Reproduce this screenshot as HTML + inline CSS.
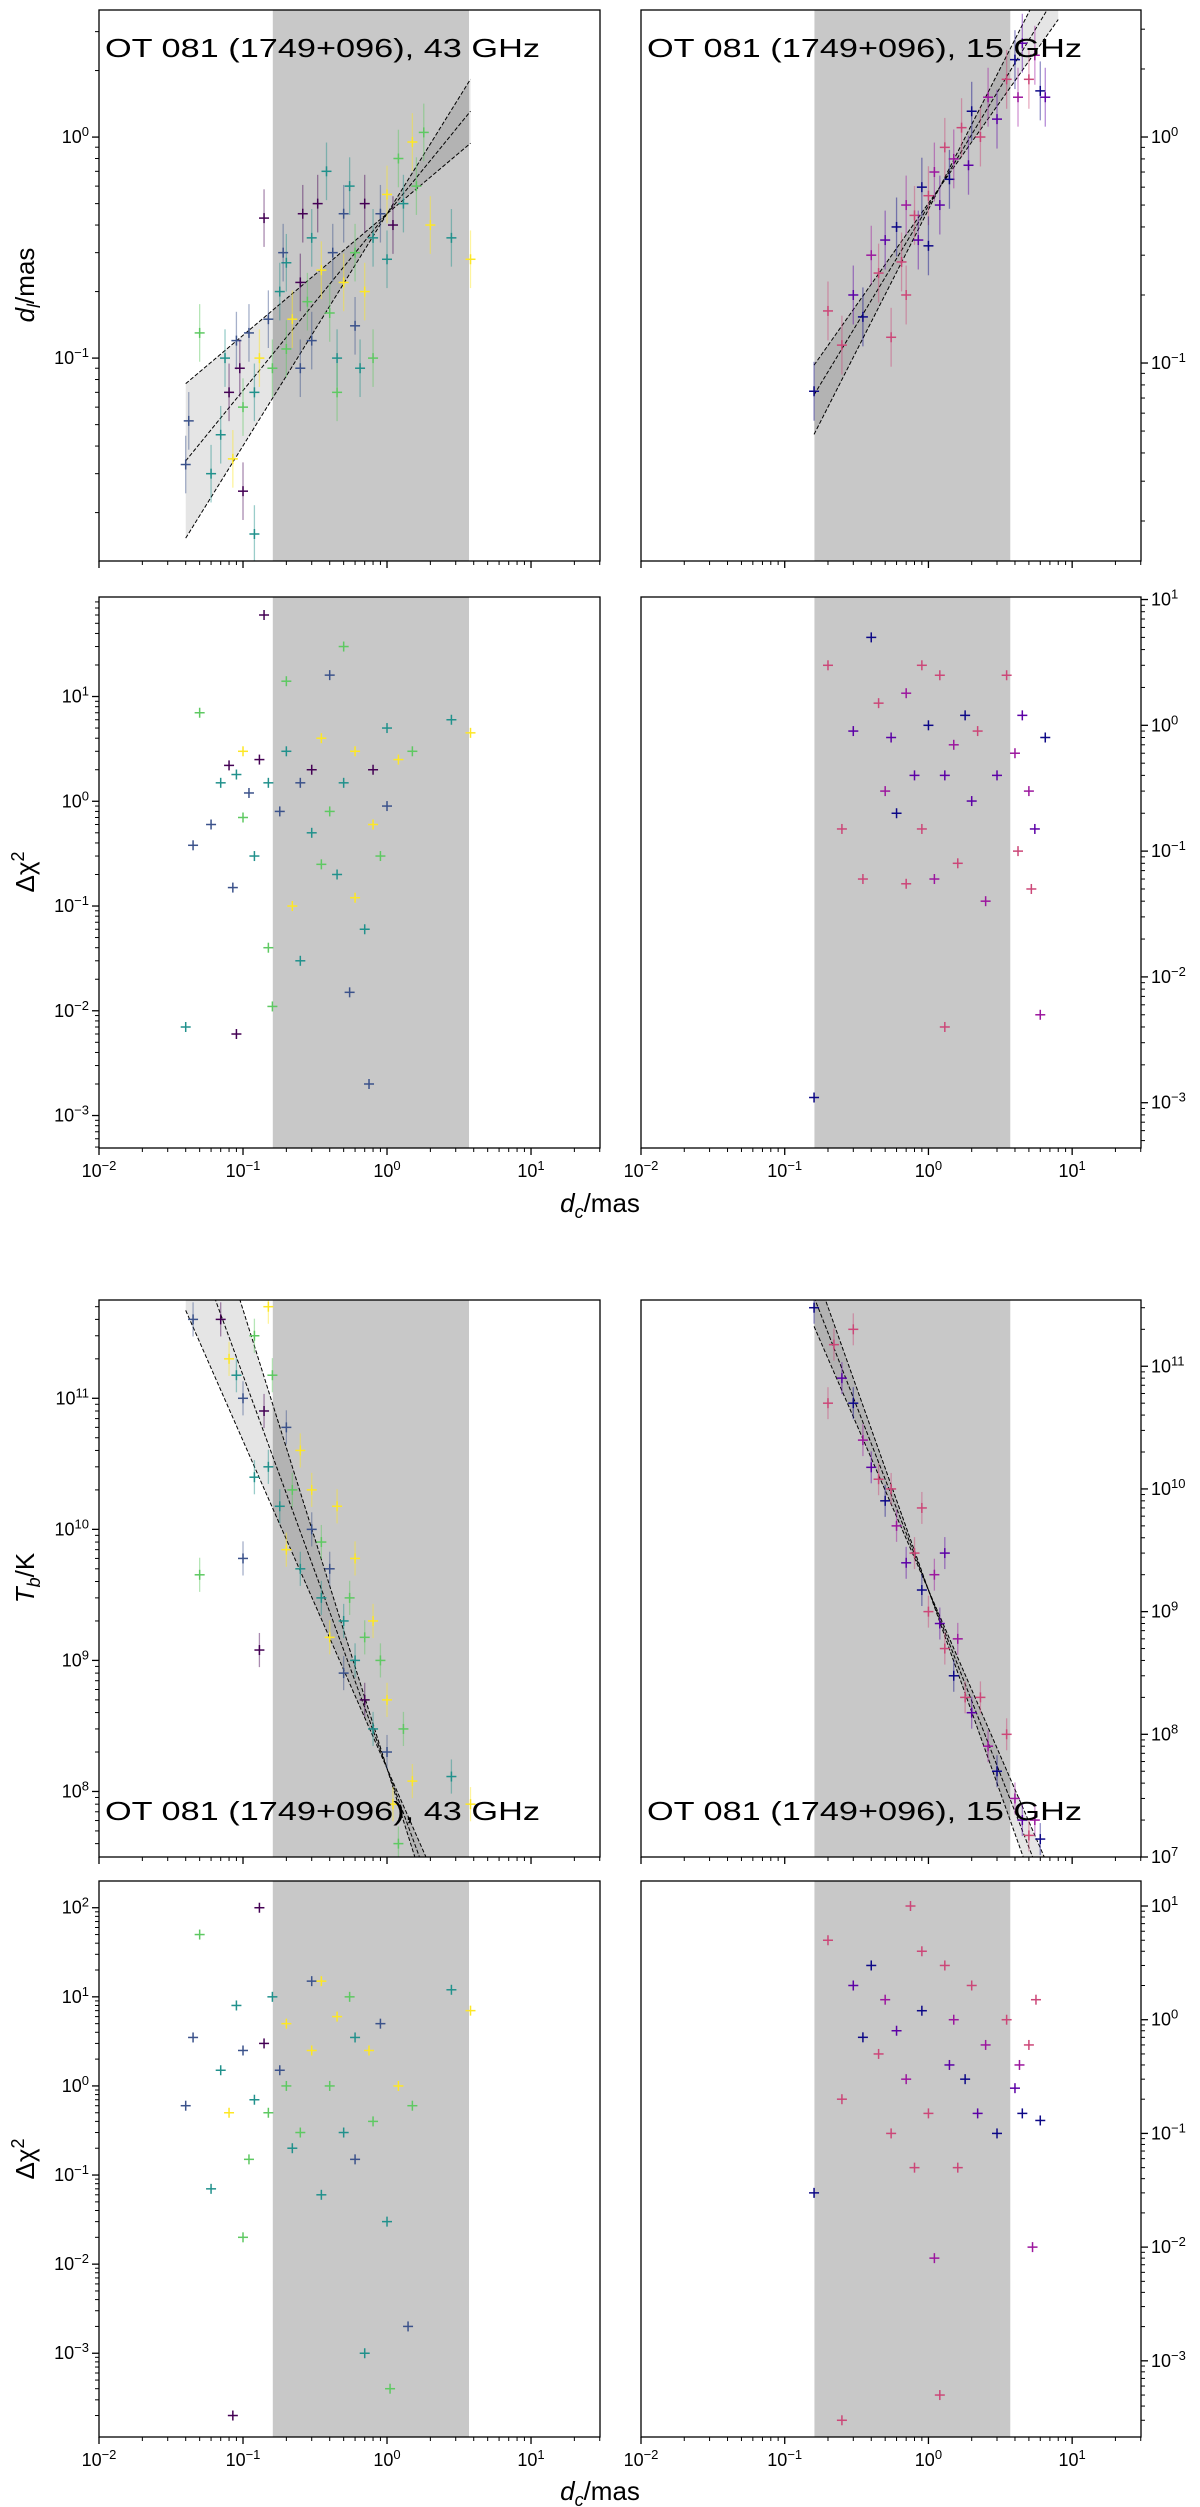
<!DOCTYPE html>
<html><head><meta charset="utf-8">
<style>
html,body{margin:0;padding:0;background:#fff;}
svg{display:block;font-family:"Liberation Sans","DejaVu Sans",sans-serif;}
</style></head>
<body>
<svg id="fig" width="1200" height="2507" viewBox="0 0 1200 2507" xmlns="http://www.w3.org/2000/svg"></svg>
<script>
// ---------- data (estimated from reference) ----------
const viridis = ['#440154','#3b528b','#21918c','#5ec962','#fde725'];
const plasma = ['#0d0887','#5c01a6','#9c179e','#cc4778'];

const aX=[0.04,0.042,0.05,0.06,0.07,0.075,0.08,0.085,0.09,0.095,0.1,0.1,0.11,0.12,0.12,0.13,0.14,0.15,0.16,0.18,0.2,0.2,0.22,0.25,0.25,0.28,0.3,0.3,0.33,0.35,0.38,0.4,0.42,0.45,0.5,0.5,0.55,0.6,0.6,0.7,0.7,0.8,0.8,0.9,1.0,1.0,1.1,1.2,1.3,1.5,1.6,1.8,2.0,2.8,3.8,0.19,0.26,0.45,0.65];
const aY=[0.033,0.052,0.13,0.03,0.045,0.1,0.07,0.035,0.12,0.09,0.025,0.06,0.13,0.07,0.016,0.1,0.43,0.15,0.09,0.2,0.11,0.27,0.15,0.09,0.22,0.18,0.35,0.12,0.5,0.25,0.7,0.16,0.3,0.1,0.45,0.22,0.6,0.3,0.14,0.5,0.2,0.35,0.1,0.45,0.55,0.28,0.4,0.8,0.5,0.95,0.6,1.05,0.4,0.35,0.28,0.3,0.45,0.07,0.09];
const aC=[1,1,3,2,2,2,0,4,1,0,0,3,1,2,2,4,0,1,3,2,3,2,4,1,0,3,2,1,0,4,2,3,1,2,1,4,2,3,1,0,4,2,3,1,4,2,0,3,2,4,3,3,4,2,4,1,0,3,2];

const bX=[0.16,0.2,0.25,0.3,0.35,0.4,0.45,0.5,0.55,0.6,0.65,0.7,0.8,0.85,0.9,1.0,1.1,1.2,1.3,1.4,1.5,1.7,1.9,2.0,2.3,2.6,3.0,3.5,4.0,4.2,4.5,5.0,5.5,6.0,6.5,0.7,1.0];
const bY=[0.075,0.17,0.12,0.2,0.16,0.3,0.25,0.35,0.13,0.4,0.28,0.5,0.45,0.35,0.6,0.55,0.7,0.5,0.9,0.65,0.8,1.1,0.75,1.3,1.0,1.5,1.2,1.8,2.2,1.5,2.6,1.8,2.3,1.6,1.5,0.2,0.33];
const bC=[0,3,3,1,0,2,3,1,3,0,3,2,3,1,0,3,2,1,3,0,2,3,1,0,3,2,1,3,0,2,1,3,2,0,1,3,0];

const cX=[0.04,0.045,0.05,0.06,0.07,0.08,0.085,0.09,0.09,0.1,0.1,0.11,0.12,0.13,0.14,0.15,0.15,0.16,0.18,0.2,0.2,0.22,0.25,0.3,0.3,0.35,0.4,0.4,0.45,0.5,0.5,0.55,0.6,0.7,0.75,0.8,0.8,0.9,1.0,1.0,1.2,1.5,2.8,3.8,0.25,0.35,0.6];
const cY=[0.007,0.38,7,0.6,1.5,2.2,0.15,0.006,1.8,3,0.7,1.2,0.3,2.5,60,0.04,1.5,0.011,0.8,3,14,0.1,1.5,0.5,2,4,16,0.8,0.2,30,1.5,0.015,3,0.06,0.002,2,0.6,0.3,5,0.9,2.5,3,6,4.5,0.03,0.25,0.12];
const cC=[2,1,3,1,2,0,1,0,2,4,3,1,2,0,0,3,2,3,1,2,3,4,1,2,0,4,1,3,2,3,2,1,4,2,1,0,4,3,2,1,4,3,2,4,2,3,4];

const dX=[0.16,0.2,0.25,0.3,0.35,0.4,0.45,0.5,0.55,0.6,0.7,0.7,0.8,0.9,1.0,1.1,1.2,1.3,1.3,1.5,1.6,1.8,2.0,2.2,2.5,3.0,3.5,4.0,4.2,4.5,5.0,5.2,5.5,6.0,6.5,0.9];
const dY=[0.0011,3,0.15,0.9,0.06,5,1.5,0.3,0.8,0.2,0.055,1.8,0.4,0.15,1.0,0.06,2.5,0.4,0.004,0.7,0.08,1.2,0.25,0.9,0.04,0.4,2.5,0.6,0.1,1.2,0.3,0.05,0.15,0.005,0.8,3];
const dC=[0,3,3,1,3,0,3,2,1,0,3,2,1,3,0,2,3,1,3,2,3,0,1,3,2,1,3,2,3,1,2,3,1,2,0,3];

const eX=[0.045,0.05,0.07,0.08,0.09,0.1,0.1,0.12,0.12,0.13,0.14,0.15,0.16,0.18,0.2,0.2,0.22,0.25,0.25,0.3,0.3,0.35,0.35,0.4,0.4,0.45,0.5,0.5,0.55,0.6,0.6,0.7,0.7,0.8,0.8,0.9,1.0,1.0,1.1,1.2,1.3,1.5,2.8,3.8,0.15];
const eY=[4e11,4.5e9,4e11,2e11,1.5e11,1e11,6e9,3e11,2.5e10,1.2e9,8e10,3e10,1.5e11,1.5e10,6e10,7e9,2e10,4e10,5e9,1e10,2e10,3e9,8e9,1.5e9,5e9,1.5e10,2e9,8e8,3e9,1e9,6e9,5e8,1.5e9,3e8,2e9,1e9,2e8,5e8,8e7,4e7,3e8,1.2e8,1.3e8,8e7,5e11];
const eC=[1,3,0,4,2,1,1,3,2,0,0,2,3,2,1,4,3,4,2,1,4,2,3,4,1,4,2,1,3,2,4,0,3,2,4,3,1,4,4,3,3,4,2,4,4];

const fX=[0.16,0.2,0.22,0.25,0.3,0.3,0.35,0.4,0.45,0.5,0.55,0.6,0.7,0.8,0.9,1.0,1.1,1.2,1.3,1.5,1.6,1.8,2.0,2.3,2.6,3.0,3.5,4.0,4.5,5.0,5.5,6.0,1.3,0.9];
const fY=[3e11,5e10,1.5e11,8e10,5e10,2e11,2.5e10,1.5e10,1.2e10,8e9,1e10,5e9,2.5e9,3e9,1.5e9,1e9,2e9,8e8,5e8,3e8,6e8,2e8,1.5e8,2e8,8e7,5e7,1e8,3e7,2e7,1.5e7,2e7,1.4e7,3e9,7e9];
const fC=[0,3,3,1,0,3,2,1,3,0,3,2,1,3,0,3,2,1,3,0,2,3,1,3,2,0,3,2,1,3,2,0,1,3];

const gX=[0.04,0.045,0.05,0.06,0.07,0.08,0.085,0.09,0.1,0.1,0.11,0.12,0.13,0.14,0.15,0.16,0.18,0.2,0.22,0.25,0.3,0.3,0.35,0.4,0.45,0.5,0.55,0.6,0.7,0.75,0.8,0.9,1.0,1.05,1.2,1.4,1.5,2.8,3.8,0.2,0.6,0.35];
const gY=[0.6,3.5,50,0.07,1.5,0.5,0.0002,8,0.02,2.5,0.15,0.7,100,3,0.5,10,1.5,5,0.2,0.3,15,2.5,0.06,1,6,0.3,10,0.15,0.001,2.5,0.4,5,0.03,0.0004,1,0.002,0.6,12,7,1,3.5,15];
const gC=[1,1,3,2,2,4,0,2,3,1,3,2,0,0,3,2,1,4,2,3,1,4,2,3,4,2,3,1,2,4,3,1,2,3,4,1,3,2,4,3,2,4];

const hX=[0.16,0.2,0.25,0.25,0.3,0.35,0.4,0.45,0.5,0.55,0.6,0.7,0.75,0.8,0.9,1.0,1.1,1.2,1.3,1.4,1.5,1.6,1.8,2.0,2.2,2.5,3.0,3.5,4.0,4.3,4.5,5.0,5.3,5.6,6.0,0.9];
const hY=[0.03,5,0.0003,0.2,2,0.7,3,0.5,1.5,0.1,0.8,0.3,10,0.05,1.2,0.15,0.008,0.0005,3,0.4,1,0.05,0.3,2,0.15,0.6,0.1,1,0.25,0.4,0.15,0.6,0.01,1.5,0.13,4];
const hC=[0,3,3,3,1,0,0,3,2,3,1,2,3,3,0,3,2,3,3,1,2,3,0,3,1,2,0,3,1,2,0,3,2,3,0,3];

// fit bands: pivot x, pivot y, slopes, x range
const fitA={px:1.0,py:0.45,slopes:[0.55,0.8,1.05],x0:0.04,x1:3.8};
const fitB={px:1.2,py:0.6,slopes:[0.9,1.05,1.25],x0:0.16,x1:8};
const fitE={px:1.0,py:1.5e8,slopes:[-2.5,-3.0,-3.5],x0:0.04,x1:3.8};
const fitF={px:1.0,py:1.5e9,slopes:[-2.7,-3.0,-3.3],x0:0.16,x1:8};

// ---------- drawing ----------
const NS='http://www.w3.org/2000/svg';
const svg=document.getElementById('fig');
function mk(tag,attrs,parent){const e=document.createElementNS(NS,tag);for(const k in attrs)e.setAttribute(k,attrs[k]);(parent||svg).appendChild(e);return e;}

const XL=-2, XH=1.479;
const shadeLo=0.161, shadeHi=3.71;

function panel(cfg){
  const g=mk('g',{});
  
  
  const {x0,x1,y0,y1,ylo,yhi}=cfg;
  const sx=v=>x0+(Math.log10(v)-XL)/(XH-XL)*(x1-x0);
  const sy=v=>y1-(Math.log10(v)-ylo)/(yhi-ylo)*(y1-y0);
  const cid='clip'+cfg.id;
  const cp=mk('clipPath',{id:cid},g);
  mk('rect',{x:x0,y:y0,width:x1-x0,height:y1-y0},cp);
  const body=mk('g',{'clip-path':'url(#'+cid+')'},g);
  const sh=mk('rect',{x:sx(shadeLo),y:y0,width:sx(shadeHi)-sx(shadeLo),height:y1-y0,fill:'#c8c8c8'},body);
  
  
  if(cfg.fit){
    const f=cfg.fit; const N=60; const up=[],lo=[];
    const lines=f.slopes.map(()=>[]);
    for(let i=0;i<=N;i++){
      const lx=Math.log10(f.x0)+(Math.log10(f.x1)-Math.log10(f.x0))*i/N;
      const x=Math.pow(10,lx);
      const vals=f.slopes.map(s=>f.py*Math.pow(x/f.px,s));
      vals.forEach((v,j)=>lines[j].push(sx(x)+','+sy(v)));
      up.push(sx(x)+','+sy(Math.max(...vals)));
      lo.push(sx(x)+','+sy(Math.min(...vals)));
    }
    const band=mk('polygon',{points:up.concat(lo.reverse()).join(' '),fill:'rgba(0,0,0,0.1)'},body);
    
    
    lines.forEach(l=>{
      const pl=mk('polyline',{points:l.join(' '),fill:'none',stroke:'#000','stroke-width':1,'stroke-dasharray':'4,2'},body);
      
      
    });
  }
  const pal=cfg.pal;
  for(let i=0;i<cfg.xs.length;i++){
    const cx=sx(cfg.xs[i]), cy=sy(cfg.ys[i]), col=pal[cfg.cs[i]];
    const pg=mk('g',{},body);
    
    
    if(cfg.err){
      mk('line',{x1:cx,x2:cx,y1:sy(cfg.ys[i]*1.35),y2:sy(cfg.ys[i]/1.35),stroke:col,'stroke-width':1.3,opacity:0.45},pg);
    }
    mk('line',{x1:cx-5,x2:cx+5,y1:cy,y2:cy,stroke:col,'stroke-width':1.5},pg);
    mk('line',{x1:cx,x2:cx,y1:cy-5,y2:cy+5,stroke:col,'stroke-width':1.5},pg);
  }
  const fr=mk('rect',{x:x0,y:y0,width:x1-x0,height:y1-y0,fill:'none',stroke:'#000','stroke-width':1.3},g);
  
  
  // x ticks
  for(let d=-2;d<=1;d++){
    for(let m=1;m<=9;m++){
      const v=m*Math.pow(10,d); const lv=Math.log10(v);
      if(lv<XL-1e-9||lv>XH) continue;
      const X=sx(v); const len=m===1?7:4;
      mk('line',{x1:X,x2:X,y1:y1,y2:y1+len,stroke:'#000','stroke-width':m===1?1.3:1},g);
      if(m===1&&cfg.xlabels){
        const t=mk('text',{x:X,y:y1+29,'text-anchor':'middle','font-size':18},g);
        
        
        t.appendChild(document.createTextNode('10'));
        const s=mk('tspan',{'font-size':13,dy:-7},t); s.textContent=d<0?'\u2212'+(-d):String(d);
      }
    }
  }
  // y ticks
  const right=cfg.right;
  for(let d=Math.floor(ylo);d<=Math.ceil(yhi);d++){
    for(let m=1;m<=9;m++){
      const lv=Math.log10(m*Math.pow(10,d));
      if(lv<ylo||lv>yhi+1e-6) continue;
      const Y=y1-(lv-ylo)/(yhi-ylo)*(y1-y0); const len=m===1?7:4;
      const tx=right?x1:x0;
      mk('line',{x1:tx,x2:right?tx+len:tx-len,y1:Y,y2:Y,stroke:'#000','stroke-width':m===1?1.3:1},g);
      if(m===1){
        const t=mk('text',{x:right?x1+10:x0-10,y:Y+6,'text-anchor':right?'start':'end','font-size':18},g);
        
        
        t.appendChild(document.createTextNode('10'));
        const s=mk('tspan',{'font-size':13,dy:-7},t); s.textContent=d<0?'\u2212'+(-d):String(d);
      }
    }
  }
  if(cfg.title){
    const t=mk('text',{x:x0+6,y:cfg.titleY,'font-size':26,textLength:435,lengthAdjust:'spacingAndGlyphs'},g);
    
    
    t.textContent=cfg.title;
  }
}

const L={x0:99,x1:600}, R={x0:641,x1:1141};
const R1={y0:10,y1:561}, R2={y0:597,y1:1148}, R3={y0:1300,y1:1857}, R4={y0:1881,y1:2437};

panel({id:'A',name:'size-43ghz-panel',...L,...R1,ylo:-1.918,yhi:0.575,xs:aX,ys:aY,cs:aC,pal:viridis,err:true,fit:fitA,title:'OT 081 (1749+096), 43 GHz',titleY:57});
panel({id:'B',name:'size-15ghz-panel',...R,...R1,ylo:-1.876,yhi:0.562,xs:bX,ys:bY,cs:bC,pal:plasma,err:true,fit:fitB,right:true,title:'OT 081 (1749+096), 15 GHz',titleY:57});
panel({id:'C',name:'chi2-size-43ghz-panel',...L,...R2,ylo:-3.31,yhi:1.95,xs:cX,ys:cY,cs:cC,pal:viridis,xlabels:true});
panel({id:'D',name:'chi2-size-15ghz-panel',...R,...R2,ylo:-3.36,yhi:1.02,xs:dX,ys:dY,cs:dC,pal:plasma,xlabels:true,right:true});
panel({id:'E',name:'tb-43ghz-panel',...L,...R3,ylo:7.5,yhi:11.75,xs:eX,ys:eY,cs:eC,pal:viridis,err:true,fit:fitE,title:'OT 081 (1749+096), 43 GHz',titleY:1820});
panel({id:'F',name:'tb-15ghz-panel',...R,...R3,ylo:7.0,yhi:11.54,xs:fX,ys:fY,cs:fC,pal:plasma,err:true,fit:fitF,right:true,title:'OT 081 (1749+096), 15 GHz',titleY:1820});
panel({id:'G',name:'chi2-tb-43ghz-panel',...L,...R4,ylo:-3.94,yhi:2.30,xs:gX,ys:gY,cs:gC,pal:viridis,xlabels:true});
panel({id:'H',name:'chi2-tb-15ghz-panel',...R,...R4,ylo:-3.67,yhi:1.22,xs:hX,ys:hY,cs:hC,pal:plasma,xlabels:true,right:true});

// axis titles
function ylab(cy,parts,name){
  const t=mk('text',{x:0,y:0,'font-size':26,'text-anchor':'middle',transform:'translate(34,'+cy+') rotate(-90)'});
  
  
  parts.forEach(p=>{const s=mk('tspan',p.a||{},t);s.textContent=p.t;});
}
ylab(285,[{t:'d',a:{'font-style':'italic'}},{t:'l',a:{'font-style':'italic','font-size':18,dy:6}},{t:'/mas',a:{dy:-6}}],'y-axis-title-size');
ylab(872,[{t:'\u0394\u03c7'},{t:'2',a:{'font-size':18,dy:-10}}],'y-axis-title-chi2');
ylab(1578,[{t:'T',a:{'font-style':'italic'}},{t:'b',a:{'font-style':'italic','font-size':18,dy:6}},{t:'/K',a:{dy:-6}}],'y-axis-title-tb');
ylab(2159,[{t:'\u0394\u03c7'},{t:'2',a:{'font-size':18,dy:-10}}],'y-axis-title-chi2-lower');
function xlab(y,name){
  const t=mk('text',{x:600,y:y,'font-size':26,'text-anchor':'middle'});
  
  
  const a=mk('tspan',{'font-style':'italic'},t);a.textContent='d';
  const b=mk('tspan',{'font-style':'italic','font-size':18,dy:6},t);b.textContent='c';
  const c=mk('tspan',{dy:-6},t);c.textContent='/mas';
}
xlab(1212,'x-axis-title-upper');
xlab(2500,'x-axis-title-lower');
</script>
</body></html>
